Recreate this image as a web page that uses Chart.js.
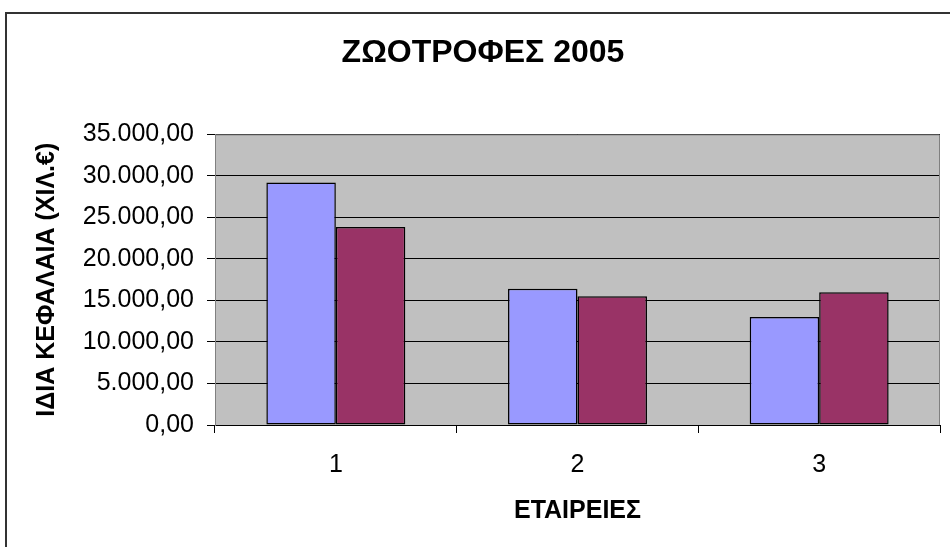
<!DOCTYPE html>
<html>
<head>
<meta charset="utf-8">
<script src="https://cdn.jsdelivr.net/npm/chart.js@4.4.1/dist/chart.umd.min.js"></script>
<style>
  html, body { margin: 0; padding: 0; background: #fff; overflow: hidden; }
  #wrap { position: relative; width: 950px; height: 547px; overflow: hidden; }
  #frame { position: absolute; left: 5px; top: 12px; width: 1000px; height: 600px; border: 2px solid #333; box-sizing: border-box; }
  #chart { position: absolute; left: 0; top: 0; }
</style>
</head>
<body>
<div id="wrap">
  <div id="frame"></div>
  <canvas id="chart" width="966" height="547"></canvas>
</div>
<script>
const companies = ['1', '2', '3'];
const seriesA = [29200, 16400, 13000];
const seriesB = [23850, 15500, 16000];
const yTicks = [0, 5000, 10000, 15000, 20000, 25000, 30000, 35000];

function formatGreek(v) {
  const s = Math.round(v).toString().replace(/\B(?=(\d{3})+(?!\d))/g, '.');
  return s + ',00';
}

const plotBackground = {
  id: 'plotBackground',
  beforeDraw(chart) {
    const { ctx, chartArea } = chart;
    if (!chartArea) return;
    ctx.save();
    ctx.fillStyle = '#c0c0c0';
    ctx.fillRect(chartArea.left, chartArea.top, chartArea.right - chartArea.left, chartArea.bottom - chartArea.top);
    ctx.restore();
  },
  afterDatasetsDraw(chart) {
    const { ctx, chartArea } = chart;
    ctx.save();
    ctx.strokeStyle = '#808080';
    ctx.lineWidth = 1;
    ctx.beginPath();
    ctx.moveTo(chartArea.left + 0.5, chartArea.bottom);
    ctx.lineTo(chartArea.left + 0.5, chartArea.top + 0.5);
    ctx.lineTo(chartArea.right - 0.5, chartArea.top + 0.5);
    ctx.lineTo(chartArea.right - 0.5, chartArea.bottom);
    ctx.stroke();
    ctx.restore();
  },
};

const font = 'Liberation Sans, Arial, sans-serif';

new Chart(document.getElementById('chart'), {
  type: 'bar',
  data: {
    labels: companies,
    datasets: [
      { label: 'A', data: seriesA, backgroundColor: '#9999ff', borderColor: '#000', borderWidth: 1.5, borderSkipped: false },
      { label: 'B', data: seriesB, backgroundColor: '#993366', borderColor: '#000', borderWidth: 1.5, borderSkipped: false },
    ],
  },
  options: {
    responsive: false,
    animation: false,
    layout: { padding: { left: 26, right: 26, top: 0, bottom: 0 } },
    datasets: { bar: { categoryPercentage: 0.575, barPercentage: 1.0 } },
    plugins: {
      legend: { display: false },
      tooltip: { enabled: false },
      title: {
        display: true,
        text: 'ΖΩΟΤΡΟΦΕΣ 2005',
        color: '#000',
        font: { family: font, size: 32, weight: 'bold' },
        padding: { top: 34, bottom: 62 },
      },
    },
    scales: {
      x: {
        offset: true,
        grid: { offset: true, drawOnChartArea: false, drawTicks: true, tickLength: 8, color: '#000' },
        border: { color: '#000', width: 1 },
        ticks: { color: '#000', padding: 17, font: { family: font, size: 25 } },
        title: {
          display: true,
          text: 'ΕΤΑΙΡΕΙΕΣ',
          color: '#000',
          font: { family: font, size: 25, weight: 'bold' },
          padding: { top: 0, bottom: 21 },
        },
        afterFit(scale) { scale.height = 122; },
      },
      y: {
        min: 0,
        max: 35000,
        afterBuildTicks(scale) { scale.ticks = yTicks.map(v => ({ value: v })); },
        grid: { color: '#000', tickLength: 8, tickColor: '#000' },
        border: { color: '#808080', width: 1 },
        ticks: {
          color: '#000',
          padding: 13,
          font: { family: font, size: 25 },
          callback: v => formatGreek(v),
        },
        title: {
          display: true,
          text: 'ΙΔΙΑ ΚΕΦΑΛΑΙΑ (ΧΙΛ.€)',
          color: '#000',
          font: { family: font, size: 25, weight: 'bold' },
          padding: { top: 6, bottom: 0 },
        },
        afterFit(scale) { scale.width = 189; },
      },
    },
  },
  plugins: [plotBackground],
});
</script>
</body>
</html>
